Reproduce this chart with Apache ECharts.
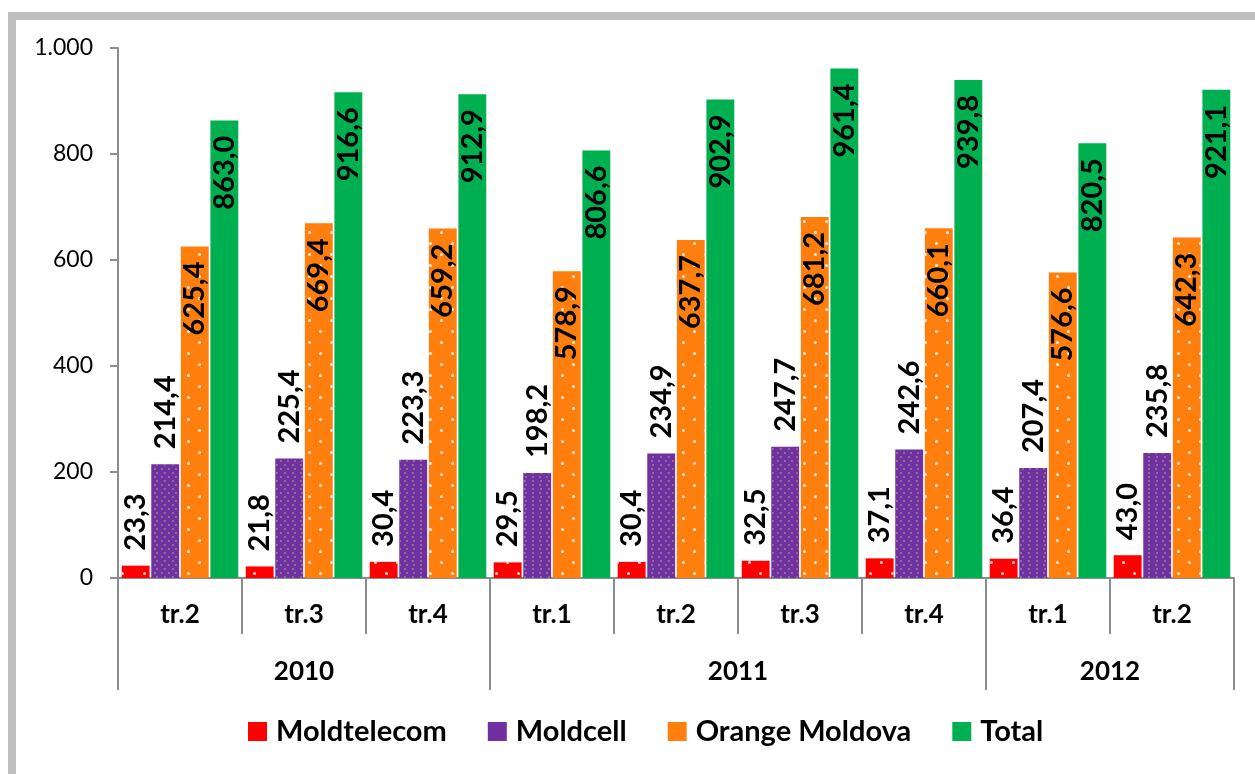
<!DOCTYPE html>
<html>
<head>
<meta charset="utf-8">
<script src="https://cdn.jsdelivr.net/npm/echarts@6/dist/echarts.min.js"></script>
<style>
html,body{margin:0;padding:0;background:#fff;overflow:hidden;}
#frame{position:absolute;left:8px;top:12px;width:1400px;height:900px;border:8px solid #BFBFBF;box-sizing:border-box;}
#chart{position:absolute;left:0;top:0;width:1255px;height:774px;}
</style>
</head>
<body>
<div id="frame"></div>
<div id="chart"></div>
<script>
// ---- data ----
var quarters = ['tr.2','tr.3','tr.4','tr.1','tr.2','tr.3','tr.4','tr.1','tr.2'];
var years = ['2010','2011','2012'];
var yearSpans = [3, 4, 2];
var seriesNames = ['Moldtelecom','Moldcell','Orange Moldova','Total'];
var moldtelecom = [23.3, 21.8, 30.4, 29.5, 30.4, 32.5, 37.1, 36.4, 43.0];
var moldcell = [214.4, 225.4, 223.3, 198.2, 234.9, 247.7, 242.6, 207.4, 235.8];
var orange = [625.4, 669.4, 659.2, 578.9, 637.7, 681.2, 660.1, 576.6, 642.3];
var total = [863.0, 916.6, 912.9, 806.6, 902.9, 961.4, 939.8, 820.5, 921.1];
var yTicks = [0, 200, 400, 600, 800, 1000];

// ---- year axis (half-unit points) ----
var halfData = [];
var tickIdx = {0: true};
var labelIdx = {};
var pos = 0;
for (var i = 0; i <= quarters.length * 2; i++) halfData.push('');
years.forEach(function (y, k) {
  var mid = pos + yearSpans[k]; // in half units
  halfData[mid] = y;
  labelIdx[mid] = true;
  pos += yearSpans[k] * 2;
  tickIdx[pos] = true;
});

var FONT = 'Lato';
function fmtVal(v) { return v.toFixed(1).replace('.', ','); }
function fmtAxis(v) {
  return String(v).replace(/\B(?=(\d{3})+(?!\d))/g, '.');
}

var dotsWhite = {
  symbol: 'circle', symbolSize: 1, color: 'rgba(255,255,255,0.85)',
  dashArrayX: [[3, 19], [0, 11, 3, 8]], dashArrayY: [3, 8]
};
var dotsGrey = {
  symbol: 'circle', symbolSize: 1, color: 'rgba(150,150,150,0.8)',
  dashArrayX: [[2, 5], [0, 3.5, 2, 1.5]], dashArrayY: [2, 1.5]
};

var colors = ['#FF0000', '#7030A0', '#FF7F0E', '#00B050'];
var decals = [dotsWhite, dotsGrey, dotsWhite, null];
var dataSets = [moldtelecom, moldcell, orange, total];
var inside = [false, false, true, true];

var labelFont = {fontFamily: FONT, fontWeight: 'bold', fontSize: 29, color: '#000'};

var series = seriesNames.map(function (name, i) {
  var lab = inside[i]
    ? Object.assign({show: true, position: 'insideTop', rotate: 90, align: 'right', verticalAlign: 'middle', distance: 15, formatter: function (p) { return fmtVal(p.value); }}, labelFont)
    : Object.assign({show: true, position: 'top', rotate: 90, align: 'left', verticalAlign: 'middle', distance: 15, formatter: function (p) { return fmtVal(p.value); }}, labelFont);
  var st = {color: colors[i]};
  if (decals[i]) st.decal = decals[i];
  return {
    name: name, type: 'bar', xAxisIndex: 0, yAxisIndex: 0,
    data: dataSets[i], itemStyle: st, label: lab,
    barGap: '6%', barCategoryGap: '6%'
  };
});

var chart = echarts.init(document.getElementById('chart'));
chart.setOption({
  animation: false,
  backgroundColor: 'transparent',
  grid: {left: 118, right: 21, top: 48, bottom: 196, containLabel: false},
  legend: {
    data: seriesNames.map(function (n) { return {name: n, itemStyle: {decal: 'none'}}; }),
    left: 243, top: 712, icon: 'rect',
    itemWidth: 19, itemHeight: 19, itemGap: 41,
    textStyle: {fontFamily: FONT, fontWeight: 'bold', fontSize: 29, color: '#000', padding: [0, 0, 0, 4]}
  },
  xAxis: [{
    type: 'category', data: quarters, position: 'bottom', boundaryGap: true,
    axisLine: {show: true, lineStyle: {color: '#8c8c8c', width: 2}},
    axisTick: {show: true, interval: 0, length: 56, lineStyle: {color: '#8c8c8c', width: 2}},
    axisLabel: {interval: 0, margin: 24, fontFamily: FONT, fontWeight: 'bold', fontSize: 26, color: '#000'}
  }, {
    type: 'category', data: halfData, position: 'bottom', boundaryGap: false,
    axisLine: {show: false},
    axisTick: {show: true, length: 112, interval: function (idx) { return !!tickIdx[idx]; }, lineStyle: {color: '#8c8c8c', width: 2}},
    axisLabel: {interval: function (idx) { return !!labelIdx[idx]; }, margin: 81, fontFamily: FONT, fontWeight: 'bold', fontSize: 26, color: '#000'}
  }],
  yAxis: {
    type: 'value', min: yTicks[0], max: yTicks[yTicks.length - 1], interval: yTicks[1] - yTicks[0],
    axisLine: {show: true, lineStyle: {color: '#8c8c8c', width: 2}},
    axisTick: {show: true, length: 8, lineStyle: {color: '#8c8c8c', width: 2}},
    splitLine: {show: false},
    axisLabel: {margin: 25, fontFamily: FONT, fontSize: 23, color: '#000', formatter: fmtAxis}
  },
  series: series
});
</script>
</body>
</html>
